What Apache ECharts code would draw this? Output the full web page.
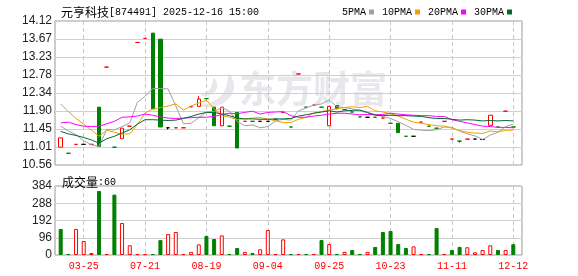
<!DOCTYPE html>
<html><head><meta charset="utf-8">
<script src="https://cdn.jsdelivr.net/npm/echarts@6/dist/echarts.min.js"></script>
<style>html,body{margin:0;padding:0;background:#fff}#c{width:578px;height:276px}</style>
</head><body><div id="c"></div>
<script>
const dates = ['03-11','03-14','03-20','03-25','04-02','04-17','05-08','05-22','06-05','06-18',
  '07-10','07-21','07-24','07-28','07-31','08-04','08-07','08-11','08-14','08-19',
  '08-21','08-22','08-25','08-27','08-28','08-29','09-02','09-04','09-08','09-10',
  '09-12','09-15','09-17','09-19','09-23','09-25','09-26','09-29','10-09','10-13',
  '10-15','10-17','10-21','10-23','10-24','10-27','10-29','10-31','11-03','11-05',
  '11-07','11-11','11-14','11-18','11-21','11-25','11-28','12-03','12-08','12-12'];
const openP = [11.00,10.85,11.07,11.07,11.07,11.99,12.98,11.00,11.21,11.52,
  13.59,13.69,13.82,13.67,11.48,11.48,11.48,12.00,12.01,12.20,
  11.99,11.53,11.52,11.86,11.64,11.64,11.64,11.64,11.69,11.86,
  11.50,12.81,11.99,12.04,11.99,11.53,12.03,11.93,11.87,11.75,
  11.74,11.74,11.72,11.59,11.59,11.27,11.27,11.62,11.52,11.47,
  11.64,11.20,11.15,11.20,11.20,11.19,11.54,11.50,11.89,11.50];
const closeP = [11.23,10.85,11.07,11.07,11.07,11.02,12.98,11.00,11.47,11.52,
  13.59,13.69,11.95,11.50,11.48,11.48,11.48,12.00,12.19,12.20,
  11.53,11.99,11.52,10.98,11.64,11.64,11.64,11.64,11.69,11.86,
  11.50,12.81,11.99,12.04,11.99,12.01,11.95,11.93,11.87,11.75,
  11.74,11.74,11.72,11.59,11.36,11.27,11.27,11.62,11.52,11.47,
  11.64,11.20,11.15,11.20,11.20,11.19,11.79,11.50,11.89,11.50];
const lowP = [11.00,10.85,11.07,11.07,11.07,11.02,12.98,11.00,11.21,11.52,
  13.59,13.69,11.95,11.50,11.44,11.48,11.48,12.00,12.01,12.20,
  11.53,11.53,11.52,10.98,11.64,11.64,11.64,11.64,11.69,11.86,
  11.50,12.81,11.99,12.04,11.99,11.53,11.95,11.93,11.87,11.75,
  11.74,11.74,11.72,11.59,11.36,11.27,11.27,11.62,11.52,11.47,
  11.64,11.20,11.11,11.20,11.20,11.19,11.54,11.50,11.89,11.50];
const highP = [11.23,10.85,11.07,11.07,11.07,11.99,12.98,11.00,11.47,11.52,
  13.59,13.69,13.82,13.67,11.48,11.48,11.48,12.00,12.26,12.20,
  11.99,11.99,11.52,11.86,11.64,11.64,11.64,11.64,11.69,11.86,
  11.50,12.81,11.99,12.04,11.99,12.01,12.03,11.93,11.87,11.75,
  11.74,11.74,11.72,11.59,11.59,11.27,11.27,11.62,11.52,11.47,
  11.64,11.20,11.15,11.20,11.20,11.19,11.79,11.50,11.89,11.50];
// u = up (red), d = down (green), n = unchanged (black)
const trend = ['u','d','u','n','u','d','u','d','u','u',
  'u','u','d','d','n','u','u','u','u','d',
  'd','u','d','d','u','d','n','n','u','u',
  'd','u','d','u','d','u','d','u','d','d',
  'n','d','u','d','d','d','n','u','d','d',
  'u','u','d','u','n','n','u','d','u','d'];
const volumes = [145,5,145,78,11,356,5,336,178,54,
  5,5,5,83,117,128,5,17,59,106,
  89,109,5,39,17,11,32,139,5,87,
  5,5,5,5,83,61,5,17,28,5,
  17,45,128,134,61,39,48,5,5,150,
  5,28,45,43,15,28,54,28,28,60];
const volTrend = ['d','d','u','u','u','d','u','d','u','u',
  'u','u','d','d','u','u','u','u','u','d',
  'd','u','d','d','u','d','u','u','u','u',
  'd','u','d','u','d','u','d','u','d','d',
  'u','d','d','d','d','d','u','u','d','d',
  'u','d','d','u','u','u','u','d','u','d'];
const ma5 = [11.52,11.40,11.31,11.16,11.06,11.02,11.44,11.43,11.51,11.60,
  12.11,12.26,12.45,12.45,12.44,12.02,11.58,11.59,11.73,11.87,
  11.88,11.98,11.89,11.64,11.53,11.55,11.48,11.51,11.65,11.69,
  11.67,11.90,11.97,12.04,12.07,12.17,12.00,11.98,11.95,11.90,
  11.85,11.81,11.76,11.71,11.63,11.54,11.44,11.42,11.41,11.43,
  11.50,11.49,11.40,11.33,11.28,11.19,11.30,11.37,11.51,11.57];
const ma10 = [12.07,11.88,11.71,11.57,11.42,11.27,11.42,11.37,11.32,11.33,
  11.56,11.85,11.94,11.98,12.02,12.07,11.92,12.02,12.09,12.16,
  11.95,11.78,11.74,11.69,11.70,11.72,11.73,11.70,11.65,11.61,
  11.61,11.69,11.74,11.85,11.88,11.92,11.95,11.98,12.00,11.98,
  12.01,11.90,11.87,11.83,11.77,11.69,11.62,11.59,11.56,11.53,
  11.52,11.47,11.41,11.37,11.35,11.34,11.40,11.38,11.42,11.42];
const ma20 = [11.60,11.62,11.56,11.52,11.51,11.52,11.58,11.64,11.74,11.75,
  11.77,11.82,11.79,11.75,11.72,11.71,11.72,11.73,11.74,11.74,
  11.76,11.81,11.84,11.83,11.86,11.89,11.82,11.86,11.87,11.88,
  11.78,11.74,11.74,11.77,11.79,11.82,11.84,11.84,11.82,11.80,
  11.81,11.80,11.81,11.84,11.82,11.80,11.79,11.78,11.78,11.76,
  11.76,11.68,11.64,11.60,11.56,11.52,11.51,11.49,11.49,11.48];
const ma30 = [11.39,11.33,11.29,11.24,11.18,11.10,11.21,11.27,11.35,11.43,
  11.57,11.68,11.68,11.67,11.66,11.67,11.71,11.76,11.82,11.86,
  11.86,11.82,11.78,11.72,11.70,11.70,11.69,11.69,11.70,11.70,
  11.71,11.77,11.80,11.84,11.87,11.90,11.87,11.90,11.91,11.92,
  11.86,11.79,11.78,11.79,11.78,11.78,11.77,11.76,11.73,11.71,
  11.71,11.69,11.67,11.68,11.67,11.65,11.66,11.65,11.66,11.65];
const priceTicks = ['10.56','11.01','11.45','11.90','12.34','12.78','13.23','13.67','14.12'];
const volTicks = ['0','96','192','288','384'];
const priceMin = 10.56, priceMax = 14.12, volMax = 384;

const RED = '#ff0000', GREEN = '#008000', BLACK = '#000000';
const colorOf = t => t === 'u' ? RED : (t === 'd' ? GREEN : BLACK);
const candleData = dates.map((d, i) => {
  const item = { value: [openP[i], closeP[i], lowP[i], highP[i]] };
  if (openP[i] === closeP[i]) {
    const c = colorOf(trend[i]);
    item.itemStyle = { color: c, color0: c, borderColor: c, borderColor0: c, borderColorDoji: c };
  }
  return item;
});
const volData = volumes.map((v, i) => ({
  value: v,
  itemStyle: volTrend[i] === 'u'
    ? { color: '#ffffff', borderColor: RED, borderWidth: 1 }
    : { color: GREEN, borderColor: GREEN, borderWidth: 1 }
}));
const isLabelIdx = i => i % 8 === 3;
const monoFont = '"Liberation Mono", "DejaVu Sans Mono", monospace';
const cjkFont = '"Noto Sans CJK SC", sans-serif';
const axisFont = '"Liberation Sans", Arial, sans-serif';

const chart = echarts.init(document.getElementById('c'), null, { renderer: 'canvas' });
const maLine = (name, data, color) => ({
  name, type: 'line', data, xAxisIndex: 0, yAxisIndex: 0, showSymbol: false, symbol: 'none',
  lineStyle: { width: 1, color }, itemStyle: { color }, z: 4, animation: false
});
const richText = {
  a: { fontFamily: cjkFont, fontSize: 12, color: '#000', fontWeight: 'normal' },
  b: { fontFamily: monoFont, fontSize: 10, color: '#000', fontWeight: 'normal' }
};
const wm = '#e8e8ec';
chart.setOption({
  animation: false,
  backgroundColor: '#ffffff',
  title: [
    { text: '{a|元亨科技}{b|[874491] 2025-12-16 15:00}', left: 56, top: 1,
      textStyle: { fontWeight: 'normal', rich: richText } },
    { text: '{a|成交量}{b|:60}', left: 57, top: 171,
      textStyle: { fontWeight: 'normal', rich: richText } }
  ],
  legend: {
    left: 337, top: 2, icon: 'rect', itemWidth: 5, itemHeight: 5, itemGap: 8, align: 'right',
    textStyle: { fontFamily: monoFont, fontSize: 10, color: '#000', padding: [0, -2, 0, 0] },
    data: ['5PMA', '10PMA', '20PMA', '30PMA'], selectedMode: false
  },
  graphic: [
    { type: 'text', left: 239, top: 70, z: -1, silent: true,
      style: { text: '东方财富', font: 'bold 37px "Noto Sans CJK SC"', fill: wm } },
    { type: 'polygon', z: -1, silent: true,
      shape: { points: [[199, 106], [214, 101], [225, 90], [229, 74], [234, 88], [226, 101], [212, 107]], smooth: 0.4 },
      style: { fill: wm } },
    { type: 'polygon', z: -1, silent: true,
      shape: { points: [[201, 95], [210, 89], [214, 78], [217, 88], [208, 96]], smooth: 0.4 },
      style: { fill: wm } }
  ],
  grid: [
    { left: 60.7, right: 64.7, top: 21, height: 144, show: false },
    { left: 55, right: 56, top: 21, height: 144, show: true, borderColor: '#999', borderWidth: 1 },
    { left: 60.7, right: 64.7, top: 186, height: 69, show: false },
    { left: 55, right: 56, top: 186, height: 69, show: true, borderColor: '#999', borderWidth: 1 }
  ],
  xAxis: [
    { type: 'category', gridIndex: 0, data: dates, boundaryGap: false,
      axisLine: { show: false }, axisTick: { show: false }, axisLabel: { show: false },
      splitLine: { show: true, interval: (i) => isLabelIdx(i), lineStyle: { color: '#c8c8c8', type: [4, 3] } } },
    { type: 'value', gridIndex: 1, min: 0, max: 1, show: false },
    { type: 'category', gridIndex: 2, data: dates, boundaryGap: false,
      axisLine: { show: false }, axisTick: { show: false },
      axisLabel: { show: true, interval: (i) => isLabelIdx(i), color: RED, fontFamily: monoFont, fontSize: 10, margin: 6 },
      splitLine: { show: true, interval: (i) => isLabelIdx(i), lineStyle: { color: '#c8c8c8', type: [4, 3] } } },
    { type: 'value', gridIndex: 3, min: 0, max: 1, show: false }
  ],
  yAxis: [
    { type: 'value', gridIndex: 0, min: priceMin, max: priceMax, show: false },
    { type: 'value', gridIndex: 1, min: 0, max: priceTicks.length - 1, interval: 1,
      axisLine: { show: false }, axisTick: { show: false },
      axisLabel: { color: '#222', fontFamily: axisFont, fontSize: 12, margin: 3,
        formatter: (v) => priceTicks[Math.round(v)] },
      splitLine: { show: true, lineStyle: { color: '#d0d0d0', width: 1 } } },
    { type: 'value', gridIndex: 2, min: 0, max: volMax, show: false },
    { type: 'value', gridIndex: 3, min: 0, max: volMax, interval: volMax / (volTicks.length - 1),
      axisLine: { show: false }, axisTick: { show: false },
      axisLabel: { color: '#222', fontFamily: axisFont, fontSize: 12, margin: 3,
        formatter: (v) => volTicks[Math.round(v / (volMax / (volTicks.length - 1)))] },
      splitLine: { show: true, lineStyle: { color: '#d0d0d0', width: 1 } } }
  ],
  series: [
    { name: 'K', type: 'candlestick', xAxisIndex: 0, yAxisIndex: 0, data: candleData,
      barWidth: 4, clip: false, z: 3,
      itemStyle: { color: '#ffffff', color0: GREEN, borderColor: RED, borderColor0: GREEN, borderWidth: 1 } },
    maLine('5PMA', ma5, '#a0a0a0'),
    maLine('10PMA', ma10, '#f0a000'),
    maLine('20PMA', ma20, '#ff00ff'),
    maLine('30PMA', ma30, '#006a30'),
    { name: 'VOL', type: 'bar', xAxisIndex: 2, yAxisIndex: 2, data: volData, barWidth: 4, clip: false, z: 3 }
  ]
});
</script></body></html>
